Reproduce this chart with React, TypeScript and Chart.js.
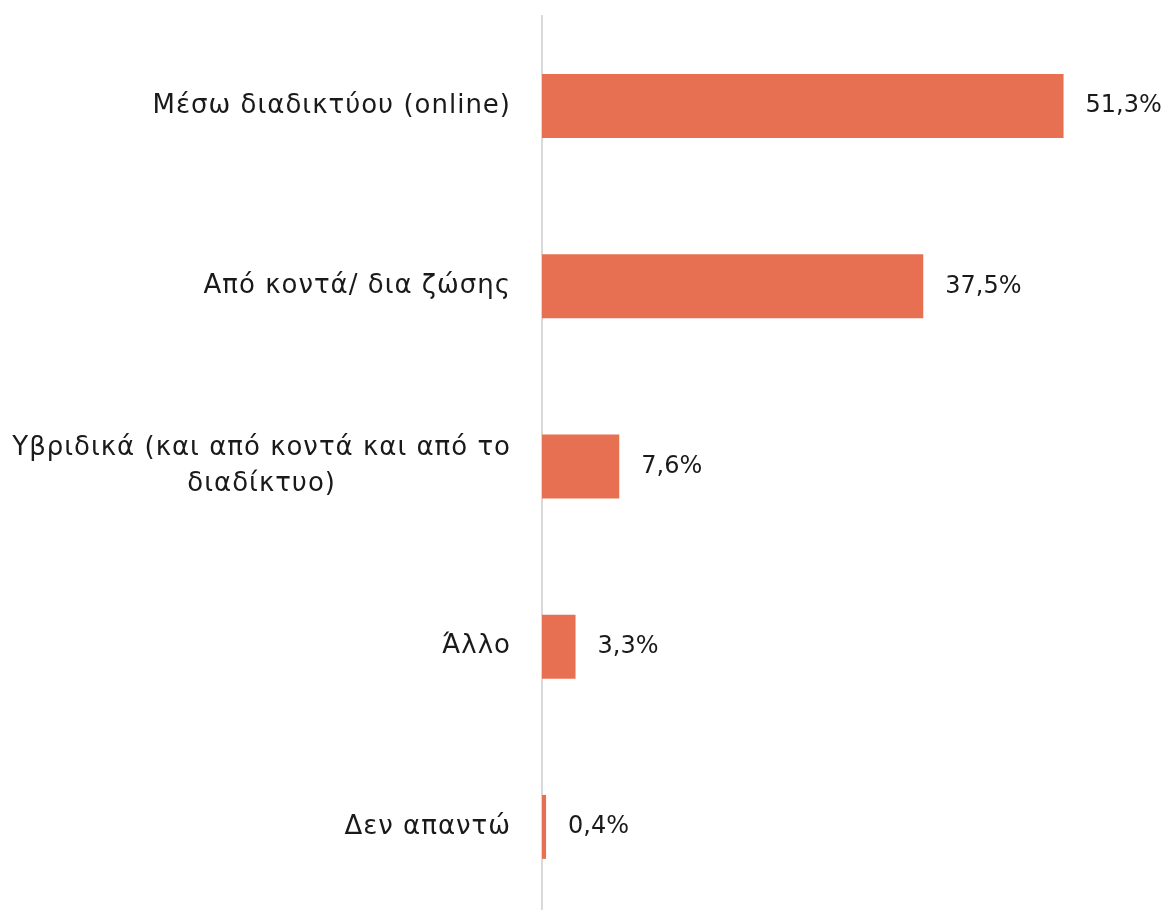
import React, { useEffect, useRef } from "react";
import { Chart, registerables } from "chart.js";

Chart.register(...registerables);

const categories: string[][] = [
  ["Μέσω διαδικτύου (online)"],
  ["Από κοντά/ δια ζώσης"],
  ["Υβριδικά (και από κοντά και από το", "διαδίκτυο)"],
  ["Άλλο"],
  ["Δεν απαντώ"],
];
const values: number[] = [51.3, 37.5, 7.6, 3.3, 0.4];
const valueLabels: string[] = ["51,3%", "37,5%", "7,6%", "3,3%", "0,4%"];

const FONT = "'DejaVu Sans', sans-serif";
const TEXT_COLOR = "#1a1a1a";
const BAR_COLOR = "#E87052";

const labelPlugin = {
  id: "customLabels",
  afterDatasetsDraw(chart: any) {
    const ctx = chart.ctx;
    const yScale = chart.scales.y;
    const meta = chart.getDatasetMeta(0);
    const left = chart.chartArea.left;
    ctx.save();
    ctx.fillStyle = TEXT_COLOR;
    ctx.textBaseline = "middle";
    categories.forEach((lines, i) => {
      const cy = yScale.getPixelForValue(i);
      ctx.font = `26px ${FONT}`;
      ctx.letterSpacing = "1px";
      const widths = lines.map((l) => ctx.measureText(l).width);
      const maxW = Math.max(...widths);
      const right = left - 31;
      const lh = 36;
      const startY = cy - ((lines.length - 1) * lh) / 2;
      ctx.textAlign = "center";
      lines.forEach((l, j) => {
        ctx.fillText(l, right - maxW / 2, startY + j * lh);
      });
      const bar = meta.data[i];
      ctx.textAlign = "left";
      ctx.font = `24px ${FONT}`;
      ctx.letterSpacing = "0px";
      ctx.fillText(valueLabels[i], bar.x + 22, cy);
    });
    ctx.restore();
  },
};

export default function App() {
  const ref = useRef<HTMLCanvasElement | null>(null);
  useEffect(() => {
    if (!ref.current) return;
    const chart = new Chart(ref.current, {
      type: "bar",
      data: {
        labels: categories.map((c) => c.join(" ")),
        datasets: [
          {
            data: values,
            backgroundColor: BAR_COLOR,
            borderWidth: 0,
            barPercentage: 0.355,
            categoryPercentage: 1,
          },
        ],
      },
      options: {
        indexAxis: "y",
        animation: false,
        responsive: true,
        maintainAspectRatio: false,
        layout: { padding: { top: 16, bottom: 13, right: 11, left: 0 } },
        plugins: {
          legend: { display: false },
          tooltip: { enabled: false },
        },
        scales: {
          x: {
            min: 0,
            max: 60,
            display: false,
            grid: { display: false },
          },
          y: {
            grid: { display: false, drawTicks: false },
            border: { display: true, color: "#d9d9d9", width: 2 },
            ticks: { display: false },
            afterFit: (scale: any) => {
              scale.width = 542;
            },
          },
        },
      },
      plugins: [labelPlugin],
    });
    return () => chart.destroy();
  }, []);
  return (
    <div style={{ position: "fixed", left: 0, top: 0, width: 1163, height: 930, background: "#fff" }}>
      <canvas ref={ref} />
    </div>
  );
}
